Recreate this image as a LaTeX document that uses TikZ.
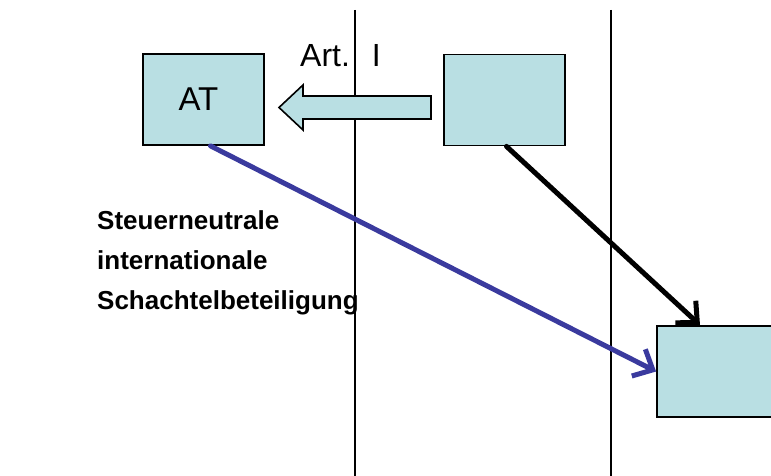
\documentclass[tikz,border=0pt]{standalone}
\usepackage{fontspec}
\setmainfont{Liberation Sans}
\usetikzlibrary{arrows.meta,calc}
\definecolor{boxfill}{HTML}{B9DFE3}
\definecolor{linkblue}{HTML}{3A3A9E}
\tikzset{
  entity/.style={draw=black, line width=1.8pt, fill=boxfill, minimum width=121pt, minimum height=91pt, inner sep=0pt, font=\fontsize{33}{38}\selectfont},
  border/.style={draw=black, line width=1.1pt},
  link/.style={line width=5pt, line cap=round, -{Straight Barb[length=16pt,width=30pt,line width=5pt]}},
}
\begin{document}
\begin{tikzpicture}[x=1pt,y=-1pt]
  \useasboundingbox (0,0) rectangle (771,476);
  % national borders
  \draw[border] (355,10) -- (355,476);
  \draw[border] (611,10) -- (611,476);
  % companies
  \node[entity] (at) at (203.5,99.5) {\hspace*{-10pt}AT};
  \node[entity] (top) at (504.5,100) {};
  \node[entity, minimum width=118pt] (sub) at (716,371.5) {};
  % treaty arrow (block arrow pointing to AT)
  \draw[line width=1.6pt, fill=boxfill]
    (431,96) -- (303,96) -- (303,85) -- (279,107.5) -- (303,130) -- (303,119) -- (431,119) -- cycle;
  \node[anchor=base west, font=\fontsize{32}{36}\selectfont, inner sep=0pt] (art) at (300,67) {Art.\hspace{22pt}I};
  % participations
  \coordinate (atout) at ($(at.south)+(7,0)$);
  \coordinate (subin) at ($(sub.north)+(-16,0)$);
  \draw[link, linkblue] (atout) -- (sub.west);
  \draw[link, black] ($(top.south)+(2,0)$) -- (subin);
  % caption
  \node[anchor=north west, align=left, inner sep=0pt, font=\bfseries\fontsize{26}{40}\selectfont] (cap) at (97,210)
    {Steuerneutrale\\internationale\\Schachtelbeteiligung};
\end{tikzpicture}
\end{document}
